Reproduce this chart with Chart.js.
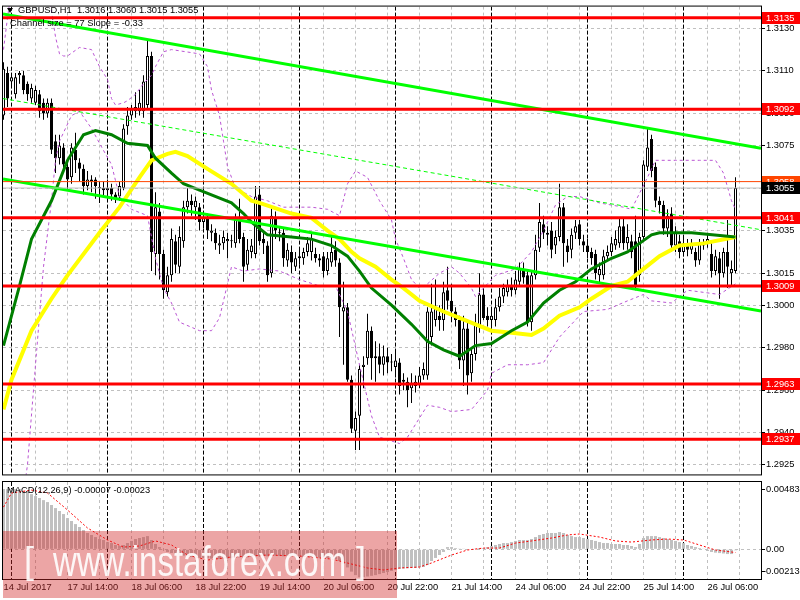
<!DOCTYPE html>
<html>
<head>
<meta charset="utf-8">
<script src="https://cdn.jsdelivr.net/npm/chart.js@4/dist/chart.umd.min.js"></script>
<style>
html,body{margin:0;padding:0;background:#fff;overflow:hidden}
#wrap{position:relative;width:800px;height:600px;background:#fff}
canvas{position:absolute;left:0}
#c1{top:0;width:800px;height:481px}
#c2{top:481px;width:800px;height:119px}
.t{position:absolute;font-family:"Liberation Sans",Arial,sans-serif;font-size:9.3px;line-height:1;color:#000;white-space:pre}
#tri{position:absolute;left:7px;top:8px;width:0;height:0;border-left:3px solid transparent;border-right:3px solid transparent;border-top:5px solid #000}
#wm{position:absolute;left:3px;top:531px;width:394px;height:67px;background:rgba(210,40,40,0.42)}
.wmt{position:absolute;font-family:"Liberation Sans",Arial,sans-serif;color:rgba(255,255,255,0.9);white-space:pre;line-height:1;transform-origin:0 0}
</style>
</head>
<body>
<div id="wrap">
<canvas id="c1" width="800" height="481"></canvas>
<canvas id="c2" width="800" height="119"></canvas>
<div id="tri"></div>
<div id="hdr" class="t" style="left:18px;top:6px"></div>
<div id="chn" class="t" style="left:10px;top:19px">Channel size = 77 Slope = -0.33</div>
<div id="mt" class="t" style="left:7px;top:486px"></div>
<div id="wm"></div>
<div class="wmt" style="left:24px;top:543px;font-size:36px">[</div>
<div class="wmt" style="left:53px;top:541px;font-size:42px;transform:scaleX(0.785)">www.instaforex.com</div>
<div class="wmt" style="left:356px;top:543px;font-size:36px">]</div>
</div>
<script>
// ---------------- DATA ----------------
const symbol = 'GBPUSD,H1';
const channelText = 'Channel size = 77 Slope = -0.33';

const openP = [
1.3089,1.3109,1.3105,1.3099,1.3108,1.3108,1.3104,1.3097,1.3095,1.3099,
1.3095,1.3090,1.3095,1.3077,1.3069,1.3074,1.3065,1.3060,1.3073,1.3067,
1.3064,1.3056,1.3058,1.3059,1.3055,1.3055,1.3054,1.3055,1.3052,1.3051,
1.3055,1.3084,1.3089,1.3091,1.3091,1.3091,1.3094,1.3117,1.3024,1.3044,
1.3024,1.3006,1.3014,1.3030,1.3018,1.3030,1.3046,1.3049,1.3046,1.3046,
1.3039,1.3041,1.3034,1.3034,1.3028,1.3029,1.3030,1.3030,1.3029,1.3041,
1.3032,1.3019,1.3025,1.3024,1.3052,1.3031,1.3028,1.3015,1.3041,1.3034,
1.3034,1.3021,1.3025,1.3018,1.3022,1.3022,1.3025,1.3025,1.3024,1.3022,
1.3023,1.3016,1.3020,1.3026,1.3020,1.2997,1.2999,1.2965,1.2941,1.2948,
1.2971,1.2975,1.2988,1.2975,1.2976,1.2972,1.2976,1.2973,1.2971,1.2973,
1.2964,1.2964,1.2961,1.2962,1.2963,1.2967,1.2967,1.2985,1.2993,1.2995,
1.2993,1.3007,1.3002,1.2997,1.2993,1.2974,1.2989,1.2968,1.2977,1.2990,
1.3005,1.2995,1.2993,1.2993,1.2999,1.3004,1.3006,1.3009,1.3007,1.3011,
1.3017,1.3014,1.2992,1.3014,1.3027,1.3038,1.3033,1.3035,1.3028,1.3032,
1.3046,1.3028,1.3026,1.3034,1.3038,1.3030,1.3028,1.3025,1.3024,1.3014,
1.3014,1.3023,1.3025,1.3028,1.3029,1.3037,1.3029,1.3030,1.3030,1.3014,
1.3032,1.3065,1.3078,1.3065,1.3049,1.3047,1.3036,1.3043,1.3028,1.3030,
1.3025,1.3029,1.3026,1.3025,1.3021,1.3028,1.3029,1.3024,1.3016,1.3022,
1.3015,1.3025,1.3015,1.3016];
const highP = [
1.3114,1.3112,1.3108,1.3109,1.3110,1.3110,1.3105,1.3104,1.3103,1.3101,
1.3097,1.3097,1.3097,1.3080,1.3080,1.3076,1.3067,1.3076,1.3081,1.3069,
1.3066,1.3063,1.3061,1.3060,1.3058,1.3058,1.3059,1.3057,1.3053,1.3058,
1.3085,1.3093,1.3094,1.3100,1.3101,1.3108,1.3125,1.3119,1.3053,1.3048,
1.3026,1.3018,1.3036,1.3033,1.3037,1.3049,1.3055,1.3052,1.3051,1.3048,
1.3044,1.3043,1.3038,1.3036,1.3033,1.3035,1.3034,1.3033,1.3043,1.3050,
1.3034,1.3031,1.3031,1.3056,1.3056,1.3034,1.3030,1.3046,1.3044,1.3037,
1.3036,1.3029,1.3028,1.3025,1.3026,1.3027,1.3032,1.3034,1.3027,1.3024,
1.3025,1.3025,1.3032,1.3030,1.3022,1.3011,1.3001,1.2967,1.2950,1.2972,
1.2976,1.2996,1.2990,1.2983,1.2982,1.2981,1.2980,1.2977,1.2978,1.2975,
1.2968,1.2966,1.2968,1.2967,1.2971,1.2973,1.2999,1.3010,1.3012,1.3000,
1.3011,1.3018,1.3010,1.2999,1.2995,1.2995,1.2993,1.2980,1.2996,1.3015,
1.3008,1.2999,1.2999,1.3003,1.3008,1.3010,1.3012,1.3013,1.3016,1.3020,
1.3020,1.3017,1.3016,1.3033,1.3048,1.3042,1.3037,1.3039,1.3035,1.3057,
1.3048,1.3031,1.3036,1.3040,1.3040,1.3033,1.3031,1.3027,1.3026,1.3020,
1.3026,1.3028,1.3032,1.3035,1.3041,1.3041,1.3038,1.3033,1.3042,1.3034,
1.3068,1.3083,1.3080,1.3067,1.3051,1.3049,1.3045,1.3046,1.3037,1.3033,
1.3032,1.3031,1.3031,1.3027,1.3031,1.3031,1.3034,1.3029,1.3026,1.3025,
1.3027,1.3040,1.3021,1.3060];
const lowP = [
1.3087,1.3093,1.3102,1.3097,1.3104,1.3099,1.3096,1.3095,1.3094,1.3088,
1.3087,1.3088,1.3071,1.3062,1.3066,1.3062,1.3054,1.3057,1.3062,1.3058,
1.3052,1.3054,1.3053,1.3050,1.3048,1.3051,1.3050,1.3049,1.3048,1.3049,
1.3054,1.3080,1.3087,1.3088,1.3089,1.3088,1.3092,1.3016,1.3014,1.3012,
1.3003,1.3004,1.3011,1.3015,1.3015,1.3027,1.3043,1.3042,1.3040,1.3035,
1.3036,1.3031,1.3030,1.3026,1.3024,1.3026,1.3022,1.3027,1.3027,1.3029,
1.3011,1.3016,1.3022,1.3022,1.3028,1.3024,1.3011,1.3013,1.3031,1.3030,
1.3018,1.3018,1.3015,1.3016,1.3019,1.3019,1.3023,1.3021,1.3020,1.3018,
1.3013,1.3014,1.3018,1.3018,1.2985,1.2972,1.2964,1.2940,1.2932,1.2932,
1.2961,1.2972,1.2965,1.2964,1.2968,1.2967,1.2968,1.2969,1.2966,1.2958,
1.2960,1.2952,1.2954,1.2959,1.2961,1.2965,1.2965,1.2981,1.2990,1.2988,
1.2988,1.2998,1.2992,1.2990,1.2970,1.2962,1.2958,1.2964,1.2974,1.2987,
1.2993,1.2990,1.2987,1.2990,1.2997,1.3001,1.3004,1.3004,1.3005,1.3009,
1.3010,1.2990,1.2988,1.3012,1.3025,1.3031,1.3028,1.3022,1.3024,1.3030,
1.3018,1.3020,1.3022,1.3031,1.3028,1.3025,1.3022,1.3019,1.3012,1.3010,
1.3012,1.3021,1.3023,1.3026,1.3027,1.3026,1.3026,1.3022,1.3007,1.3011,
1.3030,1.3063,1.3060,1.3046,1.3043,1.3033,1.3032,1.3025,1.3025,1.3022,
1.3023,1.3023,1.3024,1.3018,1.3019,1.3026,1.3027,1.3013,1.3014,1.3003,
1.3013,1.3008,1.3009,1.3015];
const closeP = [
1.3111,1.3097,1.3107,1.3107,1.3109,1.3101,1.3099,1.3102,1.3101,1.3091,
1.3090,1.3095,1.3073,1.3069,1.3075,1.3066,1.3059,1.3074,1.3068,1.3064,
1.3056,1.3059,1.3059,1.3056,1.3055,1.3054,1.3055,1.3052,1.3050,1.3056,
1.3083,1.3089,1.3092,1.3093,1.3095,1.3105,1.3117,1.3025,1.3046,1.3024,
1.3007,1.3014,1.3031,1.3019,1.3032,1.3046,1.3049,1.3047,1.3049,1.3039,
1.3041,1.3035,1.3035,1.3029,1.3029,1.3032,1.3031,1.3030,1.3041,1.3031,
1.3018,1.3026,1.3028,1.3051,1.3030,1.3029,1.3014,1.3042,1.3035,1.3034,
1.3022,1.3026,1.3020,1.3022,1.3023,1.3025,1.3029,1.3031,1.3022,1.3021,
1.3016,1.3022,1.3025,1.3021,1.2999,1.2999,1.2965,1.2942,1.2947,1.2970,
1.2972,1.2988,1.2975,1.2976,1.2972,1.2976,1.2973,1.2973,1.2974,1.2962,
1.2965,1.2960,1.2963,1.2964,1.2967,1.2970,1.2997,1.2997,1.2999,1.2993,
1.3006,1.3002,1.2997,1.2993,1.2974,1.2989,1.2967,1.2977,1.2991,1.3005,
1.2994,1.2993,1.2995,1.2999,1.3004,1.3008,1.3009,1.3007,1.3012,1.3017,
1.3013,1.2992,1.3014,1.3026,1.3039,1.3034,1.3034,1.3026,1.3032,1.3046,
1.3029,1.3025,1.3033,1.3037,1.3031,1.3028,1.3025,1.3022,1.3015,1.3017,
1.3023,1.3025,1.3029,1.3031,1.3037,1.3029,1.3032,1.3025,1.3009,1.3032,
1.3066,1.3074,1.3063,1.3049,1.3047,1.3036,1.3042,1.3028,1.3034,1.3025,
1.3029,1.3026,1.3029,1.3021,1.3029,1.3029,1.3031,1.3016,1.3023,1.3015,
1.3025,1.3018,1.3017,1.3055];

// moving averages: [bar index, price]
const maGreen = [[0,1.2981],[4,1.3009],[7,1.3031],[12,1.3049],[16,1.3068],[20,1.3080],[23,1.3082],[27,1.3080],[31,1.3076],[36,1.3075],[38,1.3069],[42,1.3062],[45,1.3057],[49,1.3054],[57,1.3048],[60,1.3043],[62,1.3039],[64,1.3036],[66,1.3033],[72,1.3032],[77,1.3031],[82,1.3028],[86,1.3023],[89,1.3016],[92,1.3008],[97,1.3000],[102,1.2991],[106,1.2983],[110,1.2979],[114,1.2976],[118,1.2981],[122,1.2982],[127,1.2988],[131,1.2992],[135,1.3001],[139,1.3007],[143,1.3011],[147,1.3017],[152,1.3022],[156,1.3025],[159,1.3029],[162,1.3033],[164,1.3034],[172,1.3034],[183,1.3032]];
const maYellow = [[0,1.2951],[2,1.2965],[7,1.2988],[12,1.3003],[16,1.3014],[24,1.3034],[29,1.3046],[34,1.3060],[37,1.3068],[41,1.3071],[43,1.3072],[46,1.3070],[51,1.3064],[57,1.3057],[62,1.3049],[64,1.3048],[72,1.3043],[77,1.3041],[81,1.3035],[84,1.3031],[87,1.3025],[89,1.3022],[93,1.3018],[97,1.3012],[100,1.3008],[104,1.3002],[110,1.2997],[114,1.2994],[118,1.2991],[122,1.2988],[127,1.2987],[132,1.2986],[135,1.2989],[139,1.2995],[144,1.2999],[147,1.3003],[152,1.3009],[156,1.3011],[160,1.3017],[164,1.3023],[169,1.3028],[175,1.3029],[183,1.3032]];
const bandUpper = [[0,1.3120],[1,1.3135],[2,1.3148],[6,1.3165],[11,1.3150],[13,1.3126],[14,1.3118],[15,1.3117],[16,1.3117],[19,1.3121],[22,1.3120],[24,1.3112],[26,1.3106],[27,1.3097],[28,1.3094],[30,1.3095],[31,1.3096],[33,1.3099],[35,1.3104],[37,1.3108],[38,1.3112],[40,1.3119],[42,1.3120],[49,1.3118],[51,1.3112],[52,1.3101],[54,1.3089],[55,1.3077],[56,1.3065],[58,1.3055],[62,1.3051],[66,1.3049],[70,1.3046],[74,1.3046],[77,1.3046],[81,1.3045],[84,1.3042],[86,1.3057],[88,1.3063],[91,1.3060],[94,1.3049],[97,1.3040],[98,1.3031],[100,1.3022],[102,1.3012],[104,1.3008],[106,1.3010],[109,1.3015],[112,1.3018],[114,1.3015],[117,1.3008],[118,1.3004],[121,1.3010],[123,1.3014],[128,1.3017],[132,1.3025],[135,1.3035],[138,1.3047],[141,1.3051],[144,1.3051],[149,1.3048],[155,1.3046],[157,1.3045],[161,1.3060],[163,1.3068],[168,1.3068],[174,1.3068],[178,1.3068],[180,1.3062],[182,1.3049],[183,1.3045]];
const bandLower = [[0,1.2850],[3,1.2885],[6,1.2925],[8,1.2972],[10,1.3018],[12,1.3049],[13,1.3068],[14,1.3077],[17,1.3089],[19,1.3091],[22,1.3083],[24,1.3076],[27,1.3066],[29,1.3051],[32,1.3045],[36,1.3042],[38,1.3022],[40,1.3008],[42,1.3001],[44,1.2992],[49,1.2988],[52,1.2988],[54,1.2994],[56,1.3010],[57,1.3018],[60,1.3016],[64,1.3017],[69,1.3016],[74,1.3012],[79,1.3009],[83,1.3009],[86,1.2997],[89,1.2972],[92,1.2948],[94,1.2938],[99,1.2935],[101,1.2938],[103,1.2944],[106,1.2953],[109,1.2952],[112,1.2950],[117,1.2951],[121,1.2960],[122,1.2968],[126,1.2972],[131,1.2972],[135,1.2973],[139,1.2985],[145,1.2997],[151,1.2998],[156,1.3002],[160,1.3005],[162,1.3002],[167,1.3001],[171,1.3007],[179,1.3005],[183,1.3010]];

// regression channel end points (bar index, price)
const channelX = [-0.125, 189.375];
const channelUpper = [1.31367, 1.30737];
const channelMid = [1.30970, 1.30354];
const channelLower = [1.30592, 1.29972];

// horizontal levels
const levelPrices = [1.3135, 1.3092, 1.3041, 1.3009, 1.2963, 1.2937];
const thinLevel = 1.3058;
const bidPrice = 1.3055;

// axes
const priceTicks = [1.3130,1.3110,1.3090,1.3075,1.3055,1.3035,1.3015,1.3000,1.2980,1.2960,1.2940,1.2925];
const xLabelIdx = [0,16,32,48,64,80,96,112,128,144,160,176];
const xLabelText = ['14 Jul 2017','17 Jul 14:00','18 Jul 06:00','18 Jul 22:00','19 Jul 14:00','20 Jul 06:00','20 Jul 22:00','21 Jul 14:00','24 Jul 06:00','24 Jul 22:00','25 Jul 14:00','26 Jul 06:00'];
const daySepIdx = [2,26,50,74,98,122,146,170];
const gridIdx = [8,16,24,32,40,48,56,64,72,80,88,96,104,112,120,128,136,144,152,160,168,176,184];

// MACD
const macdHist = [
0.00432,0.00432,0.00432,0.00432,0.00432,0.00418,0.00418,0.00396,0.00382,0.00368,
0.00353,0.00339,0.00318,0.00296,0.00275,0.00253,0.00224,0.00203,0.00181,0.00160,
0.00138,0.00117,0.00103,0.00088,0.00074,0.00067,0.00052,0.00045,0.00031,0.00024,
0.00031,0.00045,0.00060,0.00074,0.00081,0.00088,0.00095,0.00067,0.00038,0.00016,
-0.00005,-0.00019,-0.00027,-0.00034,-0.00041,-0.00045,-0.00050,-0.00055,-0.00058,-0.00062,
-0.00062,-0.00065,-0.00067,-0.00070,-0.00070,-0.00068,-0.00066,-0.00064,-0.00060,-0.00058,
-0.00060,-0.00058,-0.00055,-0.00050,-0.00050,-0.00048,-0.00050,-0.00045,-0.00045,-0.00047,
-0.00050,-0.00050,-0.00052,-0.00053,-0.00055,-0.00055,-0.00054,-0.00055,-0.00058,-0.00060,
-0.00062,-0.00062,-0.00060,-0.00070,-0.00084,-0.00105,-0.00130,-0.00160,-0.00185,-0.00200,
-0.00200,-0.00195,-0.00190,-0.00185,-0.00178,-0.00170,-0.00163,-0.00155,-0.00148,-0.00141,
-0.00138,-0.00136,-0.00134,-0.00134,-0.00130,-0.00127,-0.00113,-0.00084,-0.00062,-0.00041,
-0.00019,0.00016,0.00016,0.00009,0.00005,0.00002,-0.00002,0.00000,0.00002,0.00009,
0.00009,0.00016,0.00024,0.00031,0.00038,0.00045,0.00045,0.00052,0.00060,0.00067,
0.00067,0.00067,0.00074,0.00088,0.00103,0.00110,0.00117,0.00117,0.00117,0.00124,
0.00117,0.00103,0.00095,0.00088,0.00088,0.00081,0.00074,0.00067,0.00060,0.00052,
0.00045,0.00045,0.00038,0.00038,0.00038,0.00031,0.00031,0.00024,0.00016,0.00038,
0.00081,0.00095,0.00095,0.00095,0.00088,0.00081,0.00074,0.00067,0.00060,0.00052,
0.00045,0.00031,0.00024,0.00016,0.00009,0.00002,-0.00012,-0.00019,-0.00024,-0.00027,
-0.00030,-0.00034,-0.00034,-0.00007];
const macdSignal = [[0,0.00303],[2,0.00404],[7,0.00425],[11,0.00404],[16,0.00282],[21,0.00153],[26,0.00067],[30,0.00016],[34,0.00024],[38,0.00060],[42,0.00031],[46,-0.00041],[51,-0.00077],[57,-0.00055],[66,-0.00041],[74,-0.00048],[82,-0.00070],[91,-0.00134],[95,-0.00148],[99,-0.00134],[104,-0.00127],[107,-0.00098],[112,-0.00041],[116,-0.00005],[120,0.00009],[124,0.00009],[128,0.00045],[132,0.00060],[137,0.00081],[141,0.00103],[144,0.00110],[149,0.00088],[153,0.00060],[157,0.00052],[162,0.00067],[166,0.00074],[170,0.00067],[174,0.00031],[178,-0.00005],[183,-0.00023]];
const macdAxis = [0.00483, 0.00, -0.00213];

// ---------------- VIEW ----------------
const X_MIN = -0.125, X_MAX = 189.375;
const Y_MIN = 1.29205, Y_MAX = 1.31402;
const FONT = {family: "'Liberation Sans', Arial, sans-serif", size: 9.3};
const FONT_CSS = "9.3px 'Liberation Sans', Arial, sans-serif";

const last = closeP.length - 1;
document.getElementById('hdr').textContent =
  symbol + '  ' + openP[last].toFixed(4) + ' ' + highP[last].toFixed(4) + ' ' + lowP[last].toFixed(4) + ' ' + closeP[last].toFixed(4);
document.getElementById('chn').textContent = channelText;
document.getElementById('mt').textContent =
  'MACD(12,26,9) ' + macdHist[macdHist.length - 1].toFixed(5) + ' ' + macdSignal[macdSignal.length - 1][1].toFixed(5);

const pts = arr => arr.map(p => ({x: p[0], y: p[1]}));
const hline = v => [{x: X_MIN - 1, y: v}, {x: X_MAX + 1, y: v}];
const lineDs = (data, color, width, order, dash) => ({
  type: 'line', data, borderColor: color, borderWidth: width, borderDash: dash || [],
  pointRadius: 0, fill: false, tension: 0, order, clip: 0
});

const vgrid = {
  id: 'vgrid',
  beforeDatasetsDraw(chart) {
    const {ctx, chartArea: a} = chart;
    const xs = chart.scales.x;
    ctx.save();
    ctx.beginPath(); ctx.rect(a.left, a.top, a.right - a.left, a.bottom - a.top); ctx.clip();
    ctx.lineWidth = 1;
    ctx.strokeStyle = '#c0c0c0'; ctx.setLineDash([3, 3]);
    ctx.beginPath();
    gridIdx.forEach(i => { const p = Math.floor(xs.getPixelForValue(i)) + 0.5; ctx.moveTo(p, a.top); ctx.lineTo(p, a.bottom); });
    ctx.stroke();
    ctx.strokeStyle = '#000'; ctx.setLineDash([4, 2]);
    ctx.beginPath();
    daySepIdx.forEach(i => { const p = Math.floor(xs.getPixelForValue(i)) + 0.5; ctx.moveTo(p, a.top); ctx.lineTo(p, a.bottom); });
    ctx.stroke();
    ctx.restore();
  }
};
const frame = {
  id: 'frame',
  afterDraw(chart) {
    const {ctx, chartArea: a} = chart;
    ctx.save();
    ctx.strokeStyle = '#000'; ctx.lineWidth = 1; ctx.setLineDash([]);
    ctx.strokeRect(a.left - 0.5, a.top - 0.5, a.right - a.left + 1, a.bottom - a.top + 1);
    ctx.restore();
  }
};
const levelTags = {
  id: 'levelTags',
  afterDraw(chart) {
    const {ctx, chartArea: a} = chart;
    const ys = chart.scales.y;
    ctx.save();
    ctx.font = FONT_CSS; ctx.textBaseline = 'middle'; ctx.textAlign = 'left';
    const tag = (v, bg) => {
      const py = Math.round(ys.getPixelForValue(v));
      ctx.fillStyle = bg; ctx.fillRect(a.right + 1, py - 6, 38, 12);
      ctx.fillStyle = '#fff'; ctx.fillText(v.toFixed(4), a.right + 5, py + 0.5);
    };
    tag(thinLevel, '#ff4500');
    tag(bidPrice, '#000');
    levelPrices.forEach(v => tag(v, '#ff0000'));
    ctx.restore();
  }
};
const macdLabels = {
  id: 'macdLabels',
  afterDraw(chart) {
    const {ctx, chartArea: a} = chart;
    const ys = chart.scales.y;
    const pos = [Math.round(ys.getPixelForValue(macdAxis[0])) + 7, Math.round(ys.getPixelForValue(macdAxis[1])), Math.round(ys.getPixelForValue(macdAxis[2])) - 8];
    ctx.save();
    ctx.font = FONT_CSS; ctx.textBaseline = 'middle'; ctx.textAlign = 'left';
    ctx.fillStyle = '#000'; ctx.strokeStyle = '#000'; ctx.lineWidth = 1;
    macdAxis.forEach((v, k) => {
      const py = pos[k];
      ctx.beginPath(); ctx.moveTo(a.right, py + 0.5); ctx.lineTo(a.right + 4, py + 0.5); ctx.stroke();
      const txt = v === 0 ? '0.00' : v.toFixed(5);
      ctx.fillText(txt, v < 0 ? a.right + 2 : a.right + 5, py + 0.5);
    });
    ctx.restore();
  }
};

// candles
const wickData = highP.map((h, i) => ({x: i, y: [lowP[i], h]}));
const bodyData = openP.map((o, i) => ({x: i, y: [o, closeP[i]]}));
const bodyFill = openP.map((o, i) => closeP[i] >= o ? '#ffffff' : '#000000');

const mainDatasets = [
  ...levelPrices.map(v => lineDs(hline(v), '#ff0000', 3, 1)),
  lineDs(hline(thinLevel), '#ff4500', 1, 2),
  lineDs(hline(bidPrice), '#c0c0c0', 1, 2),
  lineDs([{x: channelX[0], y: channelUpper[0]}, {x: channelX[1], y: channelUpper[1]}], '#00ff00', 3, 3),
  lineDs([{x: channelX[0], y: channelLower[0]}, {x: channelX[1], y: channelLower[1]}], '#00ff00', 3, 3),
  lineDs([{x: channelX[0], y: channelMid[0]}, {x: channelX[1], y: channelMid[1]}], '#00ff00', 1, 4, [4, 3]),
  lineDs(pts(maGreen), '#008000', 3, 5),
  lineDs(pts(maYellow), '#ffff00', 4, 6),
  lineDs(pts(bandUpper), '#ba55d3', 1, 7, [3, 3]),
  lineDs(pts(bandLower), '#ba55d3', 1, 7, [3, 3]),
  {type: 'bar', data: bodyData, backgroundColor: bodyFill, borderColor: '#000', borderWidth: 1,
   borderSkipped: false, barThickness: 3, maxBarThickness: 3, grouped: false, minBarLength: 1, inflateAmount: 0, order: 8, clip: 0},
  {type: 'bar', data: wickData, backgroundColor: '#000', borderWidth: 0,
   borderSkipped: false, barThickness: 1, maxBarThickness: 1, grouped: false, minBarLength: 1, inflateAmount: 0, order: 9, clip: 0}
];

Chart.defaults.font.family = FONT.family;
Chart.defaults.font.size = FONT.size;
Chart.defaults.color = '#000';

new Chart(document.getElementById('c1'), {
  type: 'bar',
  data: {datasets: mainDatasets},
  options: {
    responsive: false, animation: false, devicePixelRatio: 1, events: [],
    layout: {padding: {left: 3, top: 3, right: 0, bottom: 2}},
    plugins: {legend: {display: false}, tooltip: {enabled: false}},
    scales: {
      x: {type: 'linear', min: X_MIN, max: X_MAX, offset: false, display: false},
      y: {
        type: 'linear', position: 'right', min: Y_MIN, max: Y_MAX,
        afterBuildTicks: ax => { ax.ticks = priceTicks.map(v => ({value: v})); },
        afterFit: ax => { ax.width = 39; },
        ticks: {autoSkip: false, padding: 1, color: '#000', font: FONT, callback: v => Number(v).toFixed(4)},
        grid: {color: '#c0c0c0', lineWidth: 1, drawTicks: true, tickLength: 4, tickColor: '#000', tickWidth: 1},
        border: {display: true, color: '#000', width: 1, dash: [3, 3]}
      }
    }
  },
  plugins: [vgrid, frame, levelTags]
});

new Chart(document.getElementById('c2'), {
  type: 'bar',
  data: {datasets: [
    lineDs(pts(macdSignal), '#ff0000', 1, 1, [2, 2]),
    {type: 'bar', data: macdHist.map((v, i) => ({x: i, y: v})), backgroundColor: '#c0c0c0', borderWidth: 0,
     barThickness: 3, maxBarThickness: 3, grouped: false, inflateAmount: 0, order: 2, clip: 0}
  ]},
  options: {
    responsive: false, animation: false, devicePixelRatio: 1, events: [],
    layout: {padding: {left: 3, top: 1, right: 0, bottom: 0}},
    plugins: {legend: {display: false}, tooltip: {enabled: false}},
    scales: {
      x: {
        type: 'linear', position: 'bottom', min: X_MIN, max: X_MAX, offset: false,
        afterBuildTicks: ax => { ax.ticks = xLabelIdx.map(v => ({value: v})); },
        afterFit: ax => { ax.height = 21; },
        ticks: {autoSkip: false, maxRotation: 0, minRotation: 0, align: 'start', padding: 3, color: '#000', font: FONT,
                callback: (v, i) => xLabelText[i]},
        grid: {display: false, drawTicks: false},
        border: {display: true, color: '#000'}
      },
      y: {
        type: 'linear', position: 'right', min: macdAxis[2], max: macdAxis[0],
        afterBuildTicks: ax => { ax.ticks = [{value: 0}]; },
        afterFit: ax => { ax.width = 39; },
        ticks: {display: false},
        grid: {color: '#c0c0c0', drawTicks: false},
        border: {display: true, color: '#000', dash: [3, 3]}
      }
    }
  },
  plugins: [vgrid, frame, macdLabels]
});
</script>
</body>
</html>
